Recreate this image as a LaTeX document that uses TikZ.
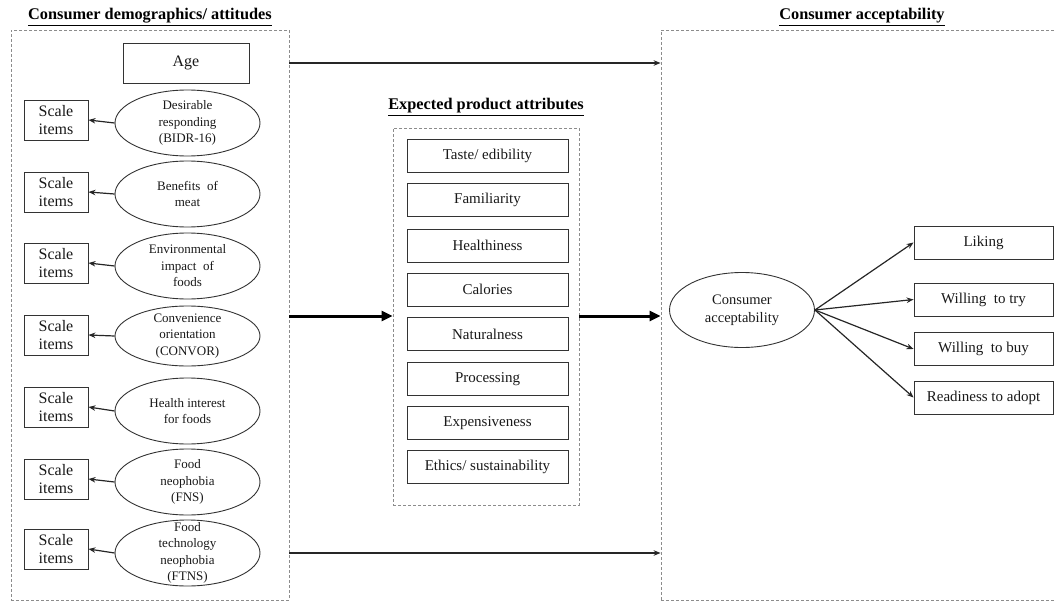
\documentclass[tikz,border=0pt]{standalone}
\usepackage{fontspec}
\setmainfont{Liberation Serif}
\usetikzlibrary{shapes.geometric,arrows.meta,calc}
\begin{document}
\begin{tikzpicture}[x=1pt,y=-1pt,
  box/.style={draw=black!80, line width=0.9pt, inner sep=0pt, align=center, text=black!90},
  ell/.style={draw=black!80, line width=0.9pt, ellipse, inner sep=0pt, minimum width=145pt, minimum height=66pt},
  etext/.style={align=center, inner sep=0pt, text=black!90, font=\fontsize{13}{16.5}\selectfont},
  scalebox/.style={box, minimum width=64pt, minimum height=40pt, font=\fontsize{16}{18}\selectfont},
  attr/.style={box, minimum width=161pt, minimum height=33pt, font=\fontsize{15}{18}\selectfont},
  outc/.style={box, minimum width=139pt, minimum height=33pt, font=\fontsize{15}{18}\selectfont},
  dbox/.style={draw=black!45, dash pattern=on 3pt off 2pt, line width=0.8pt, inner sep=0pt},
  ttl/.style={inner sep=0pt, font=\fontsize{16.3}{18}\selectfont\bfseries},
  thinarr/.style={draw=black!85, line width=1.2pt, -{Stealth[length=7pt,width=5.5pt]}},
  thickarr/.style={draw=black, line width=3pt, -{Triangle[length=11pt,width=10pt]}}]

\useasboundingbox (0,0) rectangle (1054,602);

% dashed groups
\node[dbox, minimum width=278pt, minimum height=570pt] (L) at (150,315) {};
\node[dbox, minimum width=186pt, minimum height=377pt] (C) at (486,316.5) {};
\node[dbox, minimum width=409pt, minimum height=570pt] (R) at (865.5,315) {};

% titles
\node[ttl] (tL) at (150,17) {\underline{Consumer demographics/ attitudes}};
\node[ttl] (tC) at (486,107) {\underline{Expected product attributes}};
\node[ttl] (tR) at (862,17) {\underline{Consumer acceptability}};

% left column
\node[box, minimum width=126pt, minimum height=40pt, font=\fontsize{16}{18}\selectfont] (age) at (186,63) {Age};

\node[ell] (e1) at (187.5,123) {};
\node[etext] (t1) at (e1) {Desirable\\responding\\(BIDR-16)};
\node[ell] (e2) at (187.5,194) {};
\node[etext] (t2) at (e2) {Benefits\enspace of\\meat};
\node[ell] (e3) at (187.5,266) {};
\node[etext] (t3) at (e3) {Environmental\\impact\enspace of\\foods};
\node[ell, minimum height=60pt] (e4) at (187.5,336) {};
\node[etext] (t4) at (e4) {Convenience\\orientation\\(CONVOR)};
\node[ell] (e5) at (187.5,411) {};
\node[etext] (t5) at (e5) {Health interest\\for foods};
\node[ell] (e6) at (187.5,482) {};
\node[etext] (t6) at (e6) {Food\\neophobia\\(FNS)};
\node[ell] (e7) at (187.5,553) {};
\node[etext] (t7) at (e7) {Food\\technology\\neophobia\\(FTNS)};

\node[scalebox] (s1) at (56,120) {Scale\\items};
\node[scalebox] (s2) at (56,192) {Scale\\items};
\node[scalebox] (s3) at (56,263) {Scale\\items};
\node[scalebox] (s4) at (56,335) {Scale\\items};
\node[scalebox] (s5) at (56,407) {Scale\\items};
\node[scalebox] (s6) at (56,479) {Scale\\items};
\node[scalebox] (s7) at (56,549) {Scale\\items};

\foreach \i in {1,...,7} {\draw[thinarr] (e\i.west) -- (s\i.east);}

% attributes
\node[attr] (a1) at (487.5,155.5) {Taste/ edibility};
\node[attr] (a2) at (487.5,200) {Familiarity};
\node[attr] (a3) at (487.5,245.5) {Healthiness};
\node[attr] (a4) at (487.5,289.5) {Calories};
\node[attr] (a5) at (487.5,334) {Naturalness};
\node[attr] (a6) at (487.5,379) {Processing};
\node[attr] (a7) at (487.5,423) {Expensiveness};
\node[attr] (a8) at (487.5,466.5) {Ethics/ sustainability};

% right column
\node[ell, minimum height=75pt] (ca) at (742,310) {};
\node[etext, font=\fontsize{14.5}{18}\selectfont] (tca) at (ca) {Consumer\\acceptability};

\node[outc] (o1) at (983.5,242.5) {Liking};
\node[outc] (o2) at (983.5,299.5) {Willing\enspace to try};
\node[outc] (o3) at (983.5,349) {Willing\enspace to buy};
\node[outc] (o4) at (983.5,397.5) {Readiness to adopt};

\foreach \i in {1,...,4} {\draw[thinarr] (ca.east) -- (o\i.west);}

% main connectors
\coordinate (mid) at (0,316);
\draw[thinarr] (L.east |- age) -- (R.west |- age);
\draw[thickarr] (L.east |- mid) -- (C.west |- mid);
\draw[thickarr] (C.east |- mid) -- (R.west |- mid);
\draw[thinarr] (L.east |- e7) -- (R.west |- e7);
\end{tikzpicture}
\end{document}
